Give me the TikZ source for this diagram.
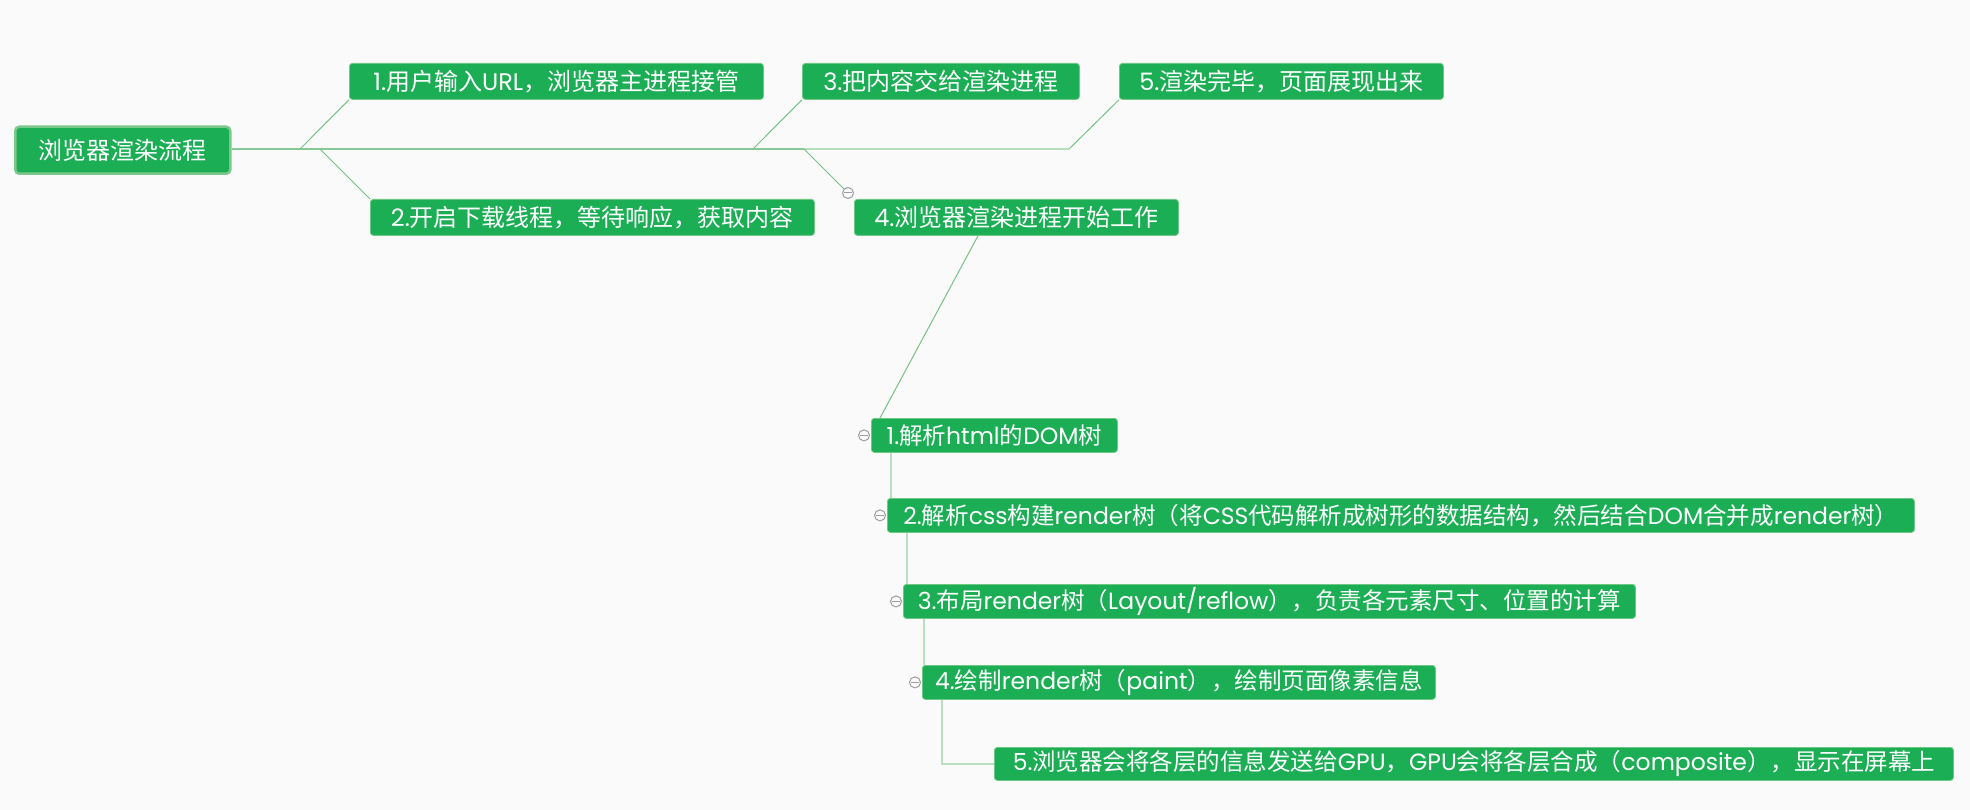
\documentclass[tikz,border=0pt]{standalone}
\usepackage{fontspec}
\setmainfont{Noto Sans CJK SC}
\newfontfamily\ltnfont{Poppins}
\newcommand\LL[1]{{\ltnfont #1}}
\usetikzlibrary{calc}
\definecolor{bg}{HTML}{FAFAFA}
\definecolor{boxg}{HTML}{1BAE55}
\definecolor{boxb}{HTML}{6FC784}
\definecolor{rootb}{HTML}{7CC88C}
\definecolor{trunkc}{HTML}{86C896}
\definecolor{trunklc}{HTML}{B5DDBE}
\definecolor{diagc}{HTML}{74C285}
\definecolor{sublc}{HTML}{B8E0C0}
\definecolor{knobc}{HTML}{9E9E9E}
\begin{document}
\begin{tikzpicture}[x=1pt,y=-1pt,
  topic/.style={draw=boxb, line width=0.8pt, fill=boxg, rounded corners=3pt,
    text=white, inner sep=0pt, anchor=north west, minimum height=36pt,
    font=\fontsize{24}{28}\selectfont},
  subtopic/.style={topic, minimum height=34pt, font=\fontsize{23.5}{27}\selectfont},
  roottopic/.style={topic, draw=rootb, line width=2.5pt, rounded corners=4pt, minimum height=47pt},
  knob/.style={circle, draw=knobc, fill=bg, line width=1pt, minimum size=11pt, inner sep=0pt},
  knobbar/.style={draw=knobc, line width=1pt},
  trunk/.style={draw=trunkc, line width=2.2pt},
  trunkl/.style={draw=trunklc, line width=2.2pt},
  diag/.style={draw=diagc, line width=1pt},
  subline/.style={draw=sublc, line width=2pt}]
\fill[bg] (0,0) rectangle (1970,810);
\useasboundingbox (0,0) rectangle (1970,810);

% nodes
\node[roottopic, minimum width=215pt] (root) at (14,125.5) {浏览器渲染流程};
\node[topic, minimum width=414pt] (b1) at (349,63) {\LL{1.}用户输入\LL{URL}，浏览器主进程接管};
\node[topic, minimum width=444pt] (b2) at (370,199) {\LL{2.}开启下载线程，等待响应，获取内容};
\node[topic, minimum width=277pt] (b3) at (802,63) {\LL{3.}把内容交给渲染进程};
\node[topic, minimum width=324pt] (b4) at (854,199) {\LL{4.}浏览器渲染进程开始工作};
\node[topic, minimum width=324pt] (b5) at (1119,63) {\LL{5.}渲染完毕，页面展现出来};

\node[subtopic, minimum width=246pt] (c1) at (871,418) {\LL{1.}解析\LL{html}的\LL{DOM}树};
\node[subtopic, minimum width=1027pt] (c2) at (887,498) {\LL{2.}解析\LL{css}构建\LL{render}树（将\LL{CSS}代码解析成树形的数据结构，然后结合\LL{DOM}合并成\LL{render}树）};
\node[subtopic, minimum width=732pt] (c3) at (903,584) {\LL{3.}布局\LL{render}树（\LL{Layout/reflow}），负责各元素尺寸、位置的计算};
\node[subtopic, minimum width=513pt] (c4) at (922,665) {\LL{4.}绘制\LL{render}树（\LL{paint}），绘制页面像素信息};
\node[subtopic, minimum width=959pt, minimum height=33pt] (c5) at (994,747) {\LL{5.}浏览器会将各层的信息发送给\LL{GPU}，\LL{GPU}会将各层合成（\LL{composite}），显示在屏幕上};

% collapse knobs
\node[knob] (k4) at (848,193) {};
\node[knob] (k1) at ([xshift=-7pt]c1.west) {};
\node[knob] (k2) at ([xshift=-7pt]c2.west) {};
\node[knob] (k3) at ([xshift=-7pt]c3.west) {};
\node[knob] (kk4) at ([xshift=-7pt]c4.west) {};
\foreach \k in {k4,k1,k2,k3,kk4}{
  \draw[knobbar] ([xshift=-4pt]\k.center) -- ([xshift=4pt]\k.center);
}

% trunk and branch points
\coordinate (q1) at (300,149);
\coordinate (q2) at (320,149);
\coordinate (q3) at (753,149);
\coordinate (p4) at (804,149);
\coordinate (p5) at (1069,149);
\draw[trunk] (root.east |- p4) -- (p4);
\draw[trunkl] (p4) -- (p5);
\draw[diag] (q1) -- (b1.south west);
\draw[diag] (q2) -- (b2.north west);
\draw[diag] (q3) -- (b3.south west);
\draw[diag] (p4) -- (k4);
\draw[diag] (p5) -- (b5.south west);

% sub branches
\coordinate (s0) at ([xshift=124pt]b4.south west);
\coordinate (s1) at ([xshift=9pt]c1.north west);
\draw[diag] (s0) -- (s1);
\coordinate (v1) at ([xshift=20pt]c1.south west);
\coordinate (v2) at ([xshift=20pt]c2.south west);
\coordinate (v3) at ([xshift=21pt]c3.south west);
\coordinate (v4) at ([xshift=20pt]c4.south west);
\draw[subline] (v1) -- (v1 |- c2.north);
\draw[subline] (v2) -- (v2 |- c3.north);
\draw[subline] (v3) -- (v3 |- c4.north);
\draw[subline] (v4) |- (c5.west);
\end{tikzpicture}
\end{document}
